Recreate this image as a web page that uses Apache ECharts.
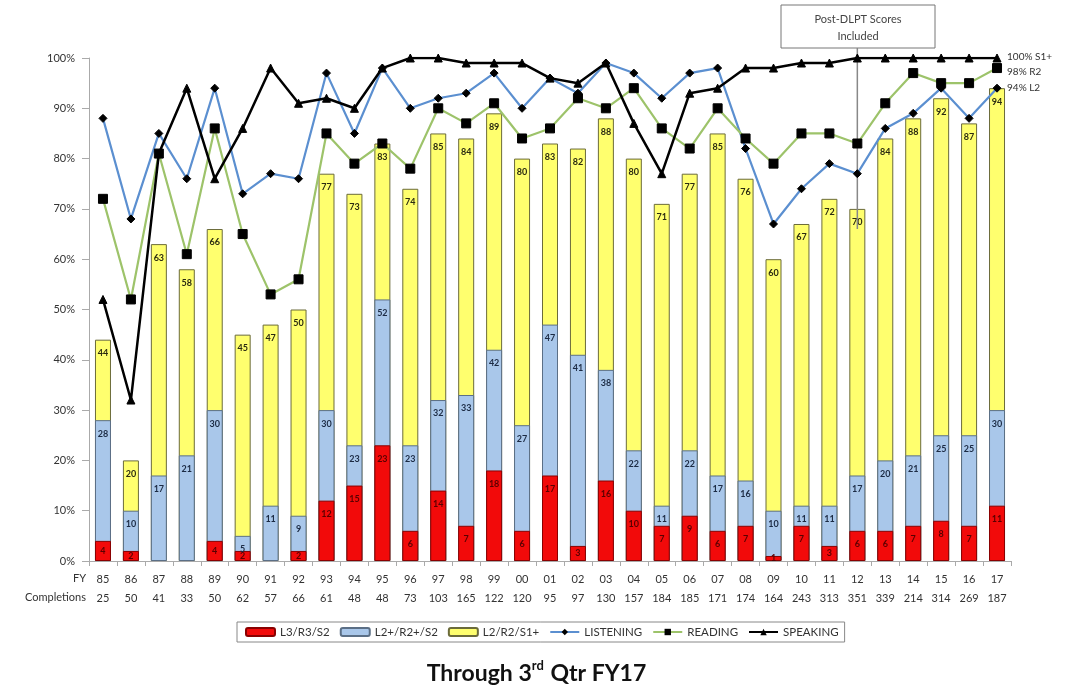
<!DOCTYPE html>
<html><head><meta charset="utf-8">
<script src="https://cdn.jsdelivr.net/npm/echarts@6/dist/echarts.min.js"></script>
<style>html,body{margin:0;padding:0;background:#fff}#c{width:1073px;height:686px}</style>
</head><body><div id="c"></div>
<script>
const categories = ['85','86','87','88','89','90','91','92','93','94','95','96','97','98','99','00','01','02','03','04','05','06','07','08','09','10','11','12','13','14','15','16','17'];
const completions = [25,50,41,33,50,62,57,66,61,48,48,73,103,165,122,120,95,97,130,157,184,185,171,174,164,243,313,351,339,214,314,269,187];
const l3 = [4,2,0,0,4,2,0,2,12,15,23,6,14,7,18,6,17,3,16,10,7,9,6,7,1,7,3,6,6,7,8,7,11];
const l2plus = [28,10,17,21,30,5,11,9,30,23,52,23,32,33,42,27,47,41,38,22,11,22,17,16,10,11,11,17,20,21,25,25,30];
const l2 = [44,20,63,58,66,45,47,50,77,73,83,74,85,84,89,80,83,82,88,80,71,77,85,76,60,67,72,70,84,88,92,87,94];
const listening = [88,68,85,76,94,73,77,76,97,85,98,90,92,93,97,90,96,93,99,97,92,97,98,82,67,74,79,77,86,89,94,88,94];
const reading = [72,52,81,61,86,65,53,56,85,79,83,78,90,87,91,84,86,92,90,94,86,82,90,84,79,85,85,83,91,97,95,95,98];
const speaking = [52,32,81,94,76,86,98,91,92,90,98,100,100,99,99,99,96,95,99,87,77,93,94,98,98,99,99,100,100,100,100,100,100];
const yTicks = [0,10,20,30,40,50,60,70,80,90,100];
const dlptCategory = '12';

const FONT = 'Lato, "Open Sans", sans-serif';
const chart = echarts.init(document.getElementById('c'));

function barLabel(color){
  return {show:true, position:'insideTop', distance:9, fontSize:9, fontWeight:'bold', color:color, fontFamily:FONT,
    formatter:p=> p.value ? String(p.value) : ''};
}

chart.setOption({
  animation:false,
  textStyle:{fontFamily:FONT},
  grid:{left:89, right:62, top:58, bottom:125},
  title:{
    text:'{a|Through 3}{s|rd}{a| Qtr FY17}',
    left:'center', top:654,
    textStyle:{rich:{
      a:{fontSize:23, fontWeight:'bold', color:'#111', fontFamily:FONT, verticalAlign:'bottom', lineHeight:26},
      s:{fontSize:13, fontWeight:'bold', color:'#111', fontFamily:FONT, verticalAlign:'top', lineHeight:26, padding:[0,1,11,0]}
    }}
  },
  legend:{
    data:['L3/R3/S2','L2+/R2+/S2','L2/R2/S1+','LISTENING','READING','SPEAKING'],
    left:237, top:622, itemWidth:29, itemHeight:8, itemGap:10,
    borderColor:'#888', borderWidth:1, padding:[4,6,4,8],
    textStyle:{fontSize:11.5, color:'#333', fontFamily:FONT}
  },
  xAxis:{
    type:'category', data:categories,
    axisLine:{lineStyle:{color:'#aaa'}},
    axisTick:{show:true, lineStyle:{color:'#aaa'}},
    axisLabel:{interval:0, color:'#333', fontSize:11, lineHeight:19, margin:9,
      formatter:(v,i)=> v + '\n' + completions[i]}
  },
  yAxis:{
    type:'value', min:yTicks[0], max:yTicks[yTicks.length-1], interval:10,
    splitLine:{show:false},
    axisLine:{show:true, lineStyle:{color:'#aaa'}},
    axisTick:{show:true, length:7, lineStyle:{color:'#aaa'}},
    axisLabel:{formatter:'{value}%', color:'#333', fontSize:11, margin:14}
  },
  series:[
    {name:'L2/R2/S1+', type:'bar', data:l2, barWidth:16, barGap:'-100%',
      itemStyle:{color:'#FFFF6E', borderColor:'#6b6b3a', borderWidth:1}, label:barLabel('#2a2a10')},
    {name:'L2+/R2+/S2', type:'bar', data:l2plus, barWidth:16, barGap:'-100%',
      itemStyle:{color:'#A9C7EA', borderColor:'#5b6f86', borderWidth:1}, label:barLabel('#1c2b44')},
    {name:'L3/R3/S2', type:'bar', barWidth:16, barGap:'-100%',
      data:l3.map(v=> v===0 ? null : (v<5 ? {value:v, label:{position:'inside'}} : v)),
      itemStyle:{color:'#F20A0A', borderColor:'#8a0000', borderWidth:1}, label:barLabel('#5a0000')},
    {name:'LISTENING', type:'line', data:listening, symbol:'diamond', symbolSize:8,
      lineStyle:{color:'#5B8FD0', width:2.2}, itemStyle:{color:'#000', borderColor:'#000'},
      endLabel:{show:true, formatter:'94% L2', fontSize:10, color:'#333', distance:10, offset:[0,0]}},
    {name:'READING', type:'line', data:reading, symbol:'rect', symbolSize:9,
      lineStyle:{color:'#9DC36A', width:2.2}, itemStyle:{color:'#000', borderColor:'#000'},
      endLabel:{show:true, formatter:'98% R2', fontSize:10, color:'#333', distance:10, offset:[0,4]}},
    {name:'SPEAKING', type:'line', data:speaking, symbol:'triangle', symbolSize:8,
      lineStyle:{color:'#000', width:2.5}, itemStyle:{color:'#000', borderColor:'#000'},
      endLabel:{show:true, formatter:'100% S1+', fontSize:10, color:'#333', distance:10, offset:[0,-1]}}
  ]
});

// annotation: vertical line at the DLPT category, positioned via the chart's own scales
const pBottom = chart.convertToPixel({xAxisIndex:0, yAxisIndex:0}, [dlptCategory, 66]);
const boxX = 781, boxW = 154, boxY = 5, boxH = 43;
chart.setOption({
  graphic:[
    {type:'text', x:86, y:573, style:{text:'FY', fill:'#333', font:'11px '+FONT, textAlign:'right'}},
    {type:'text', x:86, y:592, style:{text:'Completions', fill:'#333', font:'11px '+FONT, textAlign:'right'}},
    {type:'line', shape:{x1:pBottom[0], y1:boxY+boxH, x2:pBottom[0], y2:pBottom[1]}, style:{stroke:'#888', lineWidth:1.5}, z:3},
    {type:'rect', shape:{x:boxX, y:boxY, width:boxW, height:boxH}, style:{fill:'#fff', stroke:'#777', lineWidth:1}},
    {type:'text', x:boxX+boxW/2, y:boxY+6, style:{text:'Post-DLPT Scores\nIncluded', fill:'#444', font:'11px '+FONT, textAlign:'center', lineHeight:17}}
  ]
});
</script></body></html>
